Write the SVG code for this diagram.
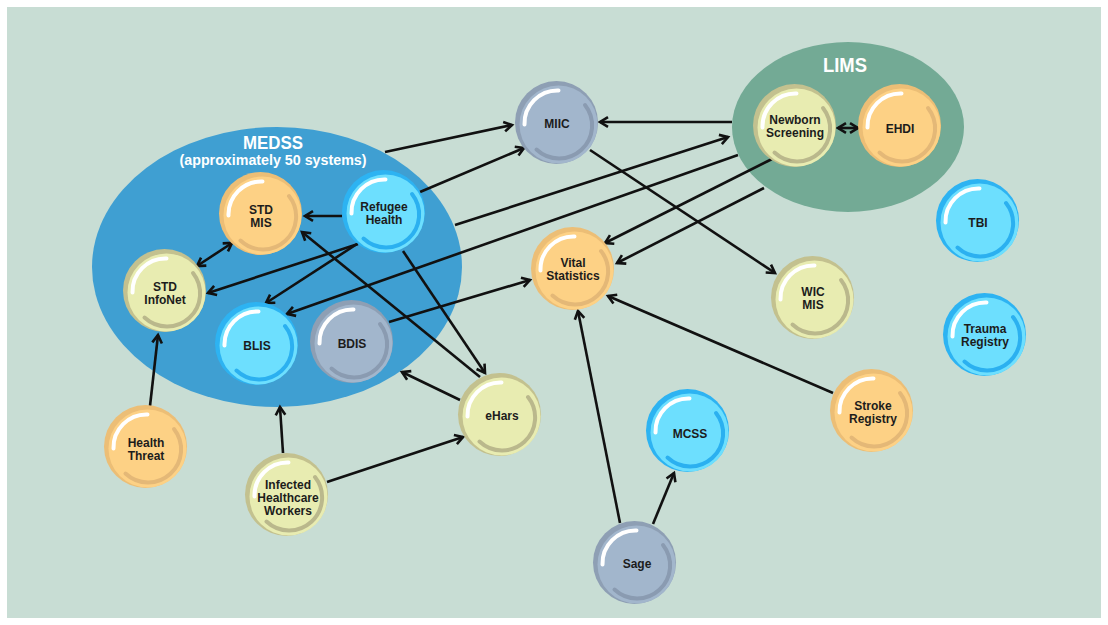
<svg xmlns="http://www.w3.org/2000/svg" xmlns:xlink="http://www.w3.org/1999/xlink" width="1108" height="625" viewBox="0 0 1108 625">
<style>
.lbl{font-family:"Liberation Sans",Arial,sans-serif;font-weight:bold;font-size:12px;fill:#1c1c1c;text-anchor:middle}
.title{font-family:"Liberation Sans",Arial,sans-serif;font-weight:bold;fill:#ffffff;text-anchor:middle}
.hl{fill:none;stroke:#ffffff;stroke-width:4;stroke-linecap:round}
.sh{fill:none;stroke-width:4;stroke-linecap:round}
.conn path{fill:none;stroke:#111111;stroke-width:2.6}
.arr{marker-end:url(#ah)}
.dbl{marker-start:url(#ah);marker-end:url(#ah)}
</style>
<defs>
<marker id="ah" markerUnits="userSpaceOnUse" markerWidth="20" markerHeight="20" refX="0" refY="0" viewBox="-12 -10 14 20" orient="auto-start-reverse" overflow="visible">
<path d="M-8,-4.8 L0,0 L-8,4.8" fill="none" stroke="#111111" stroke-width="2.6" stroke-linejoin="miter"/>
</marker>
<g id="ball-blue">
<circle cx="-0.5" cy="-0.5" r="41.5" fill="#2db3f2"/>
<circle cx="1.5" cy="1.5" r="39" fill="#6ddffe"/>
<path class="hl" d="M-32.5,1.5 A33,33 0 0 1 1.5,-32.5"/>
<path class="sh" stroke="#2bb0f0" d="M28,-18 A33,33 0 0 1 -20.5,26.5"/>
</g>
<g id="ball-orange">
<circle cx="-0.5" cy="-0.5" r="41.5" fill="#ecbe76"/>
<circle cx="1.5" cy="1.5" r="39" fill="#fdd185"/>
<path class="hl" d="M-32.5,1.5 A33,33 0 0 1 1.5,-32.5"/>
<path class="sh" stroke="#e4b877" d="M28,-18 A33,33 0 0 1 -20.5,26.5"/>
</g>
<g id="ball-yellow">
<circle cx="-0.5" cy="-0.5" r="41.5" fill="#c3c18f"/>
<circle cx="1.5" cy="1.5" r="39" fill="#e8ecb1"/>
<path class="hl" d="M-32.5,1.5 A33,33 0 0 1 1.5,-32.5"/>
<path class="sh" stroke="#bab88c" d="M28,-18 A33,33 0 0 1 -20.5,26.5"/>
</g>
<g id="ball-gray">
<circle cx="-0.5" cy="-0.5" r="41.5" fill="#8e9fb4"/>
<circle cx="1.5" cy="1.5" r="39" fill="#a2b6cc"/>
<path class="hl" d="M-32.5,1.5 A33,33 0 0 1 1.5,-32.5"/>
<path class="sh" stroke="#8a9bb1" d="M28,-18 A33,33 0 0 1 -20.5,26.5"/>
</g>
</defs>

<rect x="0" y="0" width="1108" height="625" fill="#ffffff"/>
<rect x="7" y="7" width="1094" height="611" fill="#c8ddd4"/>

<g id="group-medss">
<ellipse cx="277" cy="267" rx="185" ry="140" fill="#3f9fd2"/>
<text class="title" x="273" y="149" font-size="19" textLength="60" lengthAdjust="spacingAndGlyphs">MEDSS</text>
<text class="title" x="273" y="165" font-size="14" textLength="187" lengthAdjust="spacingAndGlyphs">(approximately 50 systems)</text>
</g>
<g id="group-lims">
<ellipse cx="848" cy="127" rx="116" ry="85" fill="#73aa95"/>
<text class="title" x="845" y="72" font-size="21" textLength="44" lengthAdjust="spacingAndGlyphs">LIMS</text>
</g>

<g class="conn" id="connectors">
<path class="arr" d="M385,152 L512,125"/>
<path class="arr" d="M420,192 L524,148"/>
<path class="arr" d="M455,225 L728,137"/>
<path class="arr" d="M738,155 L287,314"/>
<path class="arr" d="M389,322 L530,280"/>
<path class="arr" d="M342,216 L305,216"/>
<path class="dbl" d="M197,266 L232,243"/>
<path class="arr" d="M358,244 L208,293"/>
<path class="arr" d="M357,244 L266,303"/>
<path class="arr" d="M403,251 L485,373"/>
<path class="arr" d="M480,377 L302,232"/>
<path class="arr" d="M460,400 L402,372"/>
<path class="arr" d="M150,406 L158,335"/>
<path class="arr" d="M283,453 L280,407"/>
<path class="arr" d="M327,482 L463,437"/>
<path class="arr" d="M732,122 L600,122"/>
<path class="dbl" d="M838,128 L858,128"/>
<path class="arr" d="M590,150 L775,273"/>
<path class="arr" d="M772,159 L605,243"/>
<path class="arr" d="M764,188 L617,263"/>
<path class="arr" d="M833,393 L608,296"/>
<path class="arr" d="M620,523 L578,311"/>
<path class="arr" d="M653,524 L674,473"/>
</g>

<g id="node-std-mis"><use xlink:href="#ball-orange" x="261" y="214"/><text class="lbl" x="261" y="214">STD</text><text class="lbl" x="261" y="227">MIS</text></g>
<g id="node-refugee-health"><use xlink:href="#ball-blue" x="384" y="212"/><text class="lbl" x="384" y="211">Refugee</text><text class="lbl" x="384" y="224">Health</text></g>
<g id="node-std-infonet"><use xlink:href="#ball-yellow" x="165" y="291"/><text class="lbl" x="165" y="291">STD</text><text class="lbl" x="165" y="304">InfoNet</text></g>
<g id="node-blis"><use xlink:href="#ball-blue" x="257" y="344"/><text class="lbl" x="257" y="350">BLIS</text></g>
<g id="node-bdis"><use xlink:href="#ball-gray" x="352" y="342"/><text class="lbl" x="352" y="348">BDIS</text></g>
<g id="node-miic"><use xlink:href="#ball-gray" x="557" y="123"/><text class="lbl" x="557" y="128">MIIC</text></g>
<g id="node-newborn-screening"><use xlink:href="#ball-yellow" x="795" y="126"/><text class="lbl" x="795" y="124">Newborn</text><text class="lbl" x="795" y="137">Screening</text></g>
<g id="node-ehdi"><use xlink:href="#ball-orange" x="900" y="126"/><text class="lbl" x="900" y="133">EHDI</text></g>
<g id="node-vital-statistics"><use xlink:href="#ball-orange" x="573" y="269"/><text class="lbl" x="573" y="267">Vital</text><text class="lbl" x="573" y="280">Statistics</text></g>
<g id="node-tbi"><use xlink:href="#ball-blue" x="978" y="221"/><text class="lbl" x="978" y="227">TBI</text></g>
<g id="node-trauma-registry"><use xlink:href="#ball-blue" x="985" y="335"/><text class="lbl" x="985" y="333">Trauma</text><text class="lbl" x="985" y="346">Registry</text></g>
<g id="node-wic-mis"><use xlink:href="#ball-yellow" x="813" y="298"/><text class="lbl" x="813" y="296">WIC</text><text class="lbl" x="813" y="309">MIS</text></g>
<g id="node-stroke-registry"><use xlink:href="#ball-orange" x="872" y="411"/><text class="lbl" x="873" y="410">Stroke</text><text class="lbl" x="873" y="423">Registry</text></g>
<g id="node-mcss"><use xlink:href="#ball-blue" x="688" y="431"/><text class="lbl" x="690" y="438">MCSS</text></g>
<g id="node-sage"><use xlink:href="#ball-gray" x="635" y="563"/><text class="lbl" x="637" y="568">Sage</text></g>
<g id="node-ehars"><use xlink:href="#ball-yellow" x="500" y="415"/><text class="lbl" x="502" y="420">eHars</text></g>
<g id="node-health-threat"><use xlink:href="#ball-orange" x="146" y="447"/><text class="lbl" x="146" y="447">Health</text><text class="lbl" x="146" y="460">Threat</text></g>
<g id="node-infected-healthcare-workers"><use xlink:href="#ball-yellow" x="287" y="495"/><text class="lbl" x="288" y="489">Infected</text><text class="lbl" x="288" y="502">Healthcare</text><text class="lbl" x="288" y="515">Workers</text></g>
</svg>
